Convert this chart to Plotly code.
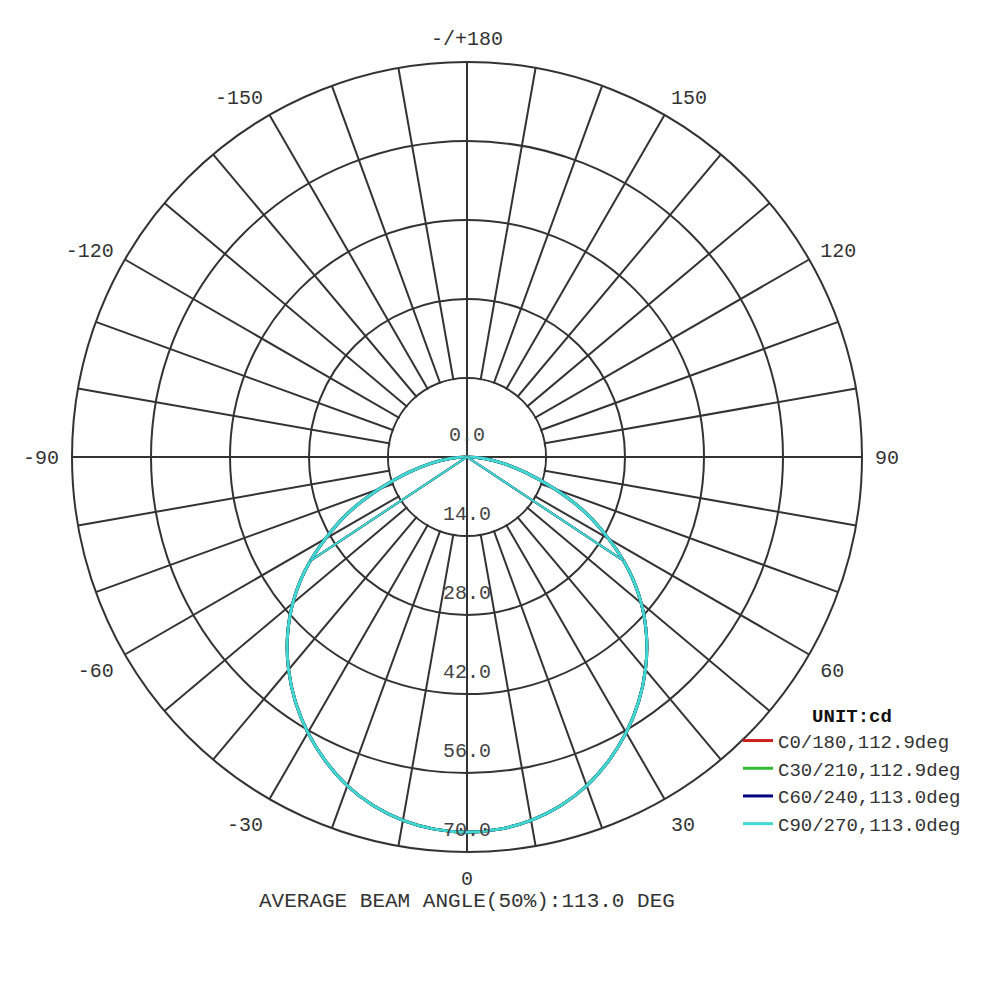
import plotly.graph_objects as go

# ---- data ----
gamma = [0, 5, 10, 15, 20, 25, 30, 35, 40, 45, 50, 55, 60, 65, 70, 75, 80, 85, 90]
intensity = [66.5, 66.2, 65.4, 64.0, 62.0, 59.4, 56.4, 53.0, 49.2, 45.0,
             40.3, 35.0, 29.0, 23.0, 16.5, 11.0, 6.5, 3.0, 0.0]

c_planes = [0, 30, 60, 90]
beam_angles = [112.9, 112.9, 113.0, 113.0]
curve_colors = ["#cc2020", "#33bb33", "#000080", "#40d8d0"]

ring_values = [0, 14, 28, 42, 56, 70]
label_angles = [0, 30, 60, 90, 120, 150, 180, 210, 240, 270, 300, 330]
label_texts = ["0", "30", "60", "90", "120", "150", "-/+180",
               "-150", "-120", "-90", "-60", "-30"]
grid_angles = list(range(0, 360, 10))

title_text = "AVERAGE BEAM ANGLE(50%):113.0 DEG"
unit_text = "UNIT:cd"

FONT = "Liberation Mono, Courier New, monospace"
GRID = "#333333"

fig = go.Figure()

# white disk hiding the spokes inside the first ring
fig.add_trace(go.Barpolar(r=[ring_values[1] - 0.2], theta=[0], width=[360],
                          marker=dict(color="white", line=dict(width=0)),
                          showlegend=False, hoverinfo="skip"))

# main cross axes through the centre
for a in (0, 90):
    fig.add_trace(go.Scatterpolar(r=[ring_values[1], 0, ring_values[1]],
                                  theta=[a, a, a + 180], mode="lines",
                                  line=dict(color=GRID, width=2),
                                  showlegend=False, hoverinfo="skip"))

# full curves (left half mirrored)
theta_full = [-g for g in reversed(gamma)] + gamma[1:]
r_full = list(reversed(intensity)) + intensity[1:]
half_peak = max(intensity) / 2

for c, b, col in zip(c_planes, beam_angles, curve_colors):
    fig.add_trace(go.Scatterpolar(r=r_full, theta=theta_full, mode="lines",
                                  line=dict(color=col, width=3, shape="spline"),
                                  name=f"C{c}/{c + 180},{b:.1f}deg"))
for c, b, col in zip(c_planes, beam_angles, curve_colors):
    fig.add_trace(go.Scatterpolar(r=[half_peak, 0, half_peak],
                                  theta=[-b / 2, 0, b / 2], mode="lines",
                                  line=dict(color=col, width=2),
                                  showlegend=False, hoverinfo="skip"))

# ring value labels (invisible markers push the text above each ring)
fig.add_trace(go.Scatterpolar(r=ring_values, theta=[0] * len(ring_values),
                              mode="markers+text", text=[f"{v:.1f}" for v in ring_values],
                              textposition="top center",
                              marker=dict(size=16, color="rgba(0,0,0,0)"),
                              textfont=dict(family=FONT, size=20, color="#444444"),
                              showlegend=False, hoverinfo="skip"))

tick_text = [label_texts[label_angles.index(a)] if a in label_angles else ""
             for a in grid_angles]

fig.update_layout(
    width=1000, height=1000,
    margin=dict(l=0, r=0, t=0, b=0),
    paper_bgcolor="white",
    polar=dict(
        domain=dict(x=[0.064, 0.854], y=[0.156, 0.946]),
        bgcolor="white",
        angularaxis=dict(rotation=270, direction="counterclockwise",
                         tickmode="array", tickvals=grid_angles, ticktext=tick_text,
                         showgrid=True, gridcolor=GRID, gridwidth=1.5,
                         showline=True, linecolor=GRID, linewidth=2,
                         ticks="outside", ticklen=8, tickcolor="rgba(0,0,0,0)",
                         tickfont=dict(family=FONT, size=20, color="#333333")),
        radialaxis=dict(range=[0, 70], tickmode="array", tickvals=ring_values[1:],
                        showgrid=True, gridcolor=GRID, gridwidth=1.5,
                        showline=False, ticks="", showticklabels=False),
    ),
    legend=dict(x=0.730, y=0.311, xanchor="left", yanchor="top",
                bgcolor="rgba(0,0,0,0)", borderwidth=0,
                font=dict(family=FONT, size=19, color="#333333"),
                title=dict(text=f"<b>{unit_text}</b>", side="top center",
                           font=dict(family=FONT, size=19, color="#111111")),
                itemwidth=30, tracegroupgap=0),
    annotations=[dict(text=title_text, x=0.459, y=0.107, xref="paper", yref="paper",
                      showarrow=False, xanchor="center", yanchor="middle",
                      font=dict(family=FONT, size=21, color="#333333"))],
)

fig.write_html("out.html")
